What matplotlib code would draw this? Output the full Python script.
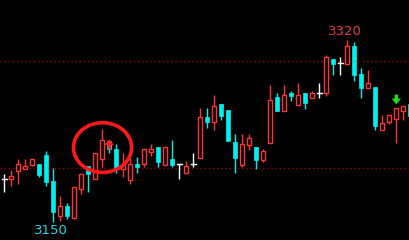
import matplotlib
matplotlib.use('Agg')
import matplotlib.pyplot as plt
from matplotlib.patches import Rectangle, Ellipse

# daily OHLC
opens = [3189.7, 3189.7, 3197.8, 3199.6, 3203.4, 3204.0, 3212.7, 3188.1, 3155.7, 3164.8,
         3153.8, 3180.4, 3202.2, 3189.7, 3208.4, 3225.8, 3218.0, 3199.6, 3189.1, 3204.0,
         3204.0, 3215.5, 3219.9, 3203.1, 3208.7, 3203.7, 3195.9, 3203.7, 3209.9, 3248.0,
         3243.6, 3260.1, 3254.5, 3224.6, 3203.4, 3222.1, 3219.9, 3207.8, 3223.9, 3266.6,
         3253.8, 3270.4, 3259.5, 3270.4, 3266.0, 3270.4, 3270.1, 3302.2, 3298.7, 3297.8,
         3314.3, 3288.1, 3275.3, 3276.0, 3236.1, 3243.6, 3245.8, 3253.8, 3260.1]
highs = [3194.7, 3198.4, 3208.7, 3208.7, 3208.7, 3204.0, 3216.2, 3200.3, 3174.1, 3167.3,
         3182.5, 3194.7, 3202.2, 3214.0, 3236.5, 3225.8, 3222.7, 3214.0, 3209.6, 3210.9,
         3218.0, 3222.7, 3219.9, 3219.9, 3226.5, 3203.7, 3206.8, 3214.0, 3256.4, 3256.4,
         3268.5, 3260.1, 3254.5, 3232.1, 3232.1, 3232.1, 3219.9, 3218.0, 3277.9, 3270.4,
         3277.9, 3272.3, 3279.7, 3270.4, 3272.3, 3279.7, 3305.9, 3302.2, 3304.0, 3320.0,
         3318.0, 3293.5, 3291.9, 3276.0, 3249.8, 3249.8, 3256.1, 3258.0, 3260.1]
lows = [3178.1, 3183.7, 3185.6, 3199.6, 3201.9, 3192.2, 3183.7, 3150.0, 3151.0, 3152.3,
        3152.3, 3176.0, 3178.1, 3189.7, 3201.5, 3214.0, 3195.9, 3191.6, 3185.3, 3195.9,
        3201.5, 3211.8, 3201.5, 3203.1, 3200.9, 3189.7, 3195.9, 3200.9, 3209.9, 3238.0,
        3235.8, 3245.4, 3225.5, 3195.9, 3200.9, 3217.4, 3199.1, 3205.9, 3223.9, 3253.8,
        3253.8, 3263.2, 3259.5, 3255.7, 3266.0, 3266.0, 3267.6, 3287.5, 3287.5, 3297.8,
        3281.6, 3266.0, 3275.3, 3236.1, 3236.1, 3241.7, 3223.9, 3245.4, 3248.9]
closes = [3189.7, 3192.5, 3204.0, 3201.9, 3208.4, 3194.0, 3187.5, 3159.4, 3164.8, 3155.7,
          3182.5, 3194.7, 3194.4, 3214.0, 3226.2, 3217.8, 3201.5, 3204.3, 3203.7, 3201.5,
          3218.0, 3218.0, 3206.2, 3219.9, 3203.1, 3203.7, 3201.9, 3203.7, 3248.0, 3243.6,
          3258.2, 3249.2, 3225.5, 3209.9, 3222.4, 3228.3, 3207.8, 3216.2, 3263.8, 3253.8,
          3268.5, 3267.6, 3268.5, 3261.3, 3270.4, 3270.4, 3304.0, 3297.8, 3298.7, 3314.3,
          3287.5, 3275.1, 3279.5, 3239.8, 3242.1, 3249.8, 3256.1, 3258.0, 3248.9]

ref_levels = [3300, 3200]
hi_label = '3320'
lo_label = '3150'

RED = '#ff3434'
CYAN = '#00f0f0'

fig = plt.figure(figsize=(4.09, 2.40), dpi=100, facecolor='black')
ax = fig.add_axes([0, 0, 1, 1])
ax.set_facecolor('black')

for lv in ref_levels:
    ax.axhline(lv, color='#a00000', lw=1, ls=(0, (1, 2)), zorder=1)

w = 0.62
for i, (o, h, l, c) in enumerate(zip(opens, highs, lows, closes)):
    if c > o:
        ax.plot([i, i], [l, h], color=RED, lw=1, zorder=2, solid_capstyle='butt')
        ax.add_patch(Rectangle((i - w / 2, o), w, c - o, facecolor='black',
                               edgecolor=RED, lw=1, zorder=3))
    elif c < o:
        ax.plot([i, i], [l, h], color=CYAN, lw=1, zorder=2, solid_capstyle='butt')
        ax.add_patch(Rectangle((i - w / 2, c), w, o - c, facecolor=CYAN,
                               edgecolor=CYAN, lw=0.5, zorder=3))
    else:
        ax.plot([i, i], [l, h], color='white', lw=1, zorder=2, solid_capstyle='butt')
        ax.plot([i - w / 2 - 0.05, i + w / 2 + 0.05], [o, o], color='white', lw=1, zorder=3)

# high / low labels
ihi = highs.index(max(highs))
ilo = lows.index(min(lows))
ax.text(ihi - 0.3, max(highs) + 7.8, hi_label, color='#e83a3a', fontsize=9.5,
        ha='center', va='center')
ax.text(ilo - 0.4, min(lows) - 8, lo_label, color='#22d8e8', fontsize=9.5,
        ha='center', va='center')

# red circle annotation and arrows
ax.add_patch(Ellipse((14.03, 3219.4), 8.3, 46.5, fill=False, edgecolor='#ff1a1a',
                     lw=2.6, zorder=5))
arrow = 'simple,head_length=0.42,head_width=0.68,tail_width=0.24'
ax.annotate('', xy=(15, 3227.2), xytext=(15, 3217.6),
            arrowprops=dict(arrowstyle=arrow, color='#ff2020', lw=0,
                            shrinkA=0, shrinkB=0), zorder=6)
ax.annotate('', xy=(56, 3259.8), xytext=(56, 3268.8),
            arrowprops=dict(arrowstyle=arrow, color='#22dd22', lw=0,
                            shrinkA=0, shrinkB=0), zorder=6)

ax.set_xlim(-0.614, 57.81)
ax.set_ylim(3133.0, 3357.3)
ax.axis('off')

fig.savefig('out.png', dpi=100, facecolor='black')
